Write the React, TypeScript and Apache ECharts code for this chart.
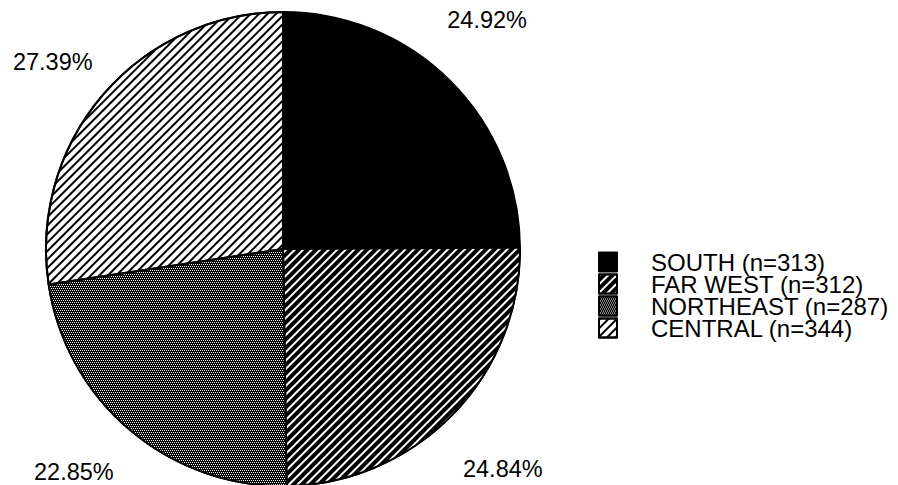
import React, { useEffect, useRef } from "react";
import * as echarts from "echarts";

// Respondents by region
const regions = ["SOUTH", "FAR WEST", "NORTHEAST", "CENTRAL"];
const counts = [313, 312, 287, 344];

const FONT = "'Liberation Sans', Arial, Helvetica, sans-serif";

// Small per-slice shifts of the percentage labels around the ring
const labelNudges = [
  [-11, -13],
  [2, 7],
  [-12, -10],
  [1, 12],
];

// Fill for each slice: solid, white hatch on black, stipple, black hatch on white
const sliceStyles: any[] = [
  { color: "#000000" },
  {
    color: "#000000",
    decal: {
      symbol: "rect",
      symbolSize: 1,
      color: "#ffffff",
      dashArrayX: [[1, 0]],
      dashArrayY: [2, 4],
      rotation: -Math.PI / 4,
    },
  },
  {
    color: "#000000",
    decal: {
      symbol: "rect",
      symbolSize: 1,
      color: "#ffffff",
      dashArrayX: [
        [1, 1],
        [0, 1, 1, 0],
      ],
      dashArrayY: [1, 1],
      rotation: 0,
    },
  },
  {
    color: "#ffffff",
    decal: {
      symbol: "rect",
      symbolSize: 1,
      color: "#000000",
      dashArrayX: [[1, 0]],
      dashArrayY: [2, 4],
      rotation: -Math.PI / 4,
    },
  },
];

export default function App() {
  const ref = useRef<HTMLDivElement>(null);

  useEffect(() => {
    const chart = echarts.init(ref.current!, null, { renderer: "svg" });
    const center = [283, 249];

    chart.setOption({
      animation: false,
      backgroundColor: "#ffffff",
      legend: {
        orient: "vertical",
        left: 598,
        top: 250,
        padding: 0,
        icon: "rect",
        itemWidth: 18,
        itemHeight: 19,
        itemGap: -2,
        selectedMode: false,
        data: regions,
        formatter: (name: string) => `${name} (n=${counts[regions.indexOf(name)]})`,
        textStyle: {
          fontFamily: FONT,
          fontSize: 24,
          lineHeight: 21,
          height: 21,
          color: "#000",
          padding: [0, 0, 0, 29],
        },
      },
      series: [
        {
          type: "pie",
          center,
          radius: [0, 237],
          startAngle: 90,
          clockwise: true,
          silent: true,
          label: { show: false },
          labelLine: { show: false },
          itemStyle: { borderColor: "#000", borderWidth: 2 },
          data: regions.map((name, i) => ({
            name,
            value: counts[i],
            itemStyle: { ...sliceStyles[i], borderColor: "#000", borderWidth: 2 },
          })),
        },
        {
          type: "pie",
          center,
          radius: [272, 332],
          startAngle: 90,
          clockwise: true,
          silent: true,
          legendHoverLink: false,
          itemStyle: { color: "rgba(0,0,0,0)" },
          label: {
            show: true,
            position: "inside",
            formatter: "{d}%",
            fontFamily: FONT,
            fontSize: 23.5,
            color: "#000",
          },
          labelLine: { show: false },
          labelLayout: (p: any) => ({
            dx: labelNudges[p.dataIndex][0],
            dy: labelNudges[p.dataIndex][1],
          }),
          data: regions.map((name, i) => ({ name, value: counts[i] })),
        },
      ],
    });

    return () => chart.dispose();
  }, []);

  return (
    <div
      ref={ref}
      style={{ position: "fixed", left: 0, top: 0, width: 898, height: 485 }}
    />
  );
}
